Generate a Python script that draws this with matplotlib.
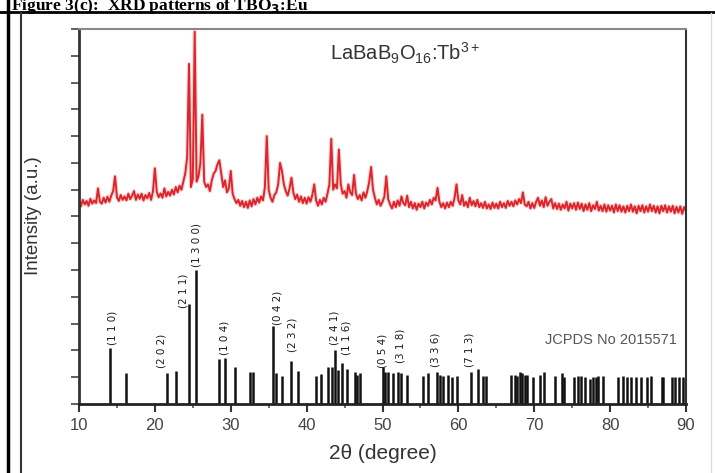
import numpy as np
import matplotlib.pyplot as plt
from matplotlib.lines import Line2D

# measured pattern, 10-90 deg in 0.25 deg steps (4 values per degree)
intensity = [
    7.55, 7.38, 7.62, 7.45,  # 10
    7.58, 7.40, 7.66, 7.48,  # 11
    7.60, 7.50, 8.05, 7.55,  # 12
    7.48, 7.70, 7.52, 7.74,  # 13
    7.55, 7.78, 7.95, 8.50,  # 14
    7.72, 7.58, 7.80, 7.62,  # 15
    7.75, 7.60, 7.85, 7.65,  # 16
    7.78, 7.95, 7.62, 7.82,  # 17
    7.66, 7.85, 7.60, 7.80,  # 18
    7.68, 7.88, 7.62, 7.95,  # 19
    8.80, 7.92, 7.72, 7.86,  # 20
    7.70, 8.05, 7.75, 7.92,  # 21
    7.78, 8.00, 7.82, 8.10,  # 22
    7.90, 8.15, 8.00, 8.30,  # 23
    8.60, 9.20, 12.70, 8.10,  # 24
    8.40, 13.90, 8.30, 8.50,  # 25
    9.00, 10.80, 8.30, 8.10,  # 26
    8.20, 7.95, 8.35, 8.60,  # 27
    8.70, 8.95, 9.10, 8.60,  # 28
    8.10, 8.35, 7.90, 8.05,  # 29
    8.70, 7.85, 7.65, 7.50,  # 30
    7.62, 7.40, 7.58, 7.35,  # 31
    7.55, 7.32, 7.60, 7.38,  # 32
    7.65, 7.45, 7.70, 7.52,  # 33
    7.75, 7.60, 8.10, 10.00,  # 34
    8.00, 7.70, 7.55, 7.80,  # 35
    7.90, 8.20, 9.00, 8.70,  # 36
    8.20, 7.95, 7.78, 8.05,  # 37
    8.45, 7.90, 7.65, 7.82,  # 38
    7.55, 7.75, 7.50, 7.70,  # 39
    7.48, 7.72, 7.55, 7.80,  # 40
    8.20, 7.60, 7.40, 7.62,  # 41
    7.45, 7.70, 7.55, 7.85,  # 42
    8.20, 9.90, 8.00, 8.20,  # 43
    8.05, 9.50, 8.20, 7.85,  # 44
    7.95, 7.70, 8.20, 7.90,  # 45
    7.80, 8.55, 7.85, 7.65,  # 46
    7.80, 7.60, 7.90, 7.70,  # 47
    7.95, 8.30, 8.85, 8.00,  # 48
    7.70, 7.45, 7.62, 7.40,  # 49
    7.55, 7.75, 8.50, 7.65,  # 50
    7.45, 7.30, 7.55, 7.35,  # 51
    7.60, 7.40, 7.75, 7.50,  # 52
    7.42, 7.78, 7.35, 7.55,  # 53
    7.30, 7.50, 7.25, 7.48,  # 54
    7.35, 7.55, 7.30, 7.52,  # 55
    7.40, 7.62, 7.45, 7.70,  # 56
    7.60, 8.07, 7.55, 7.35,  # 57
    7.50, 7.30, 7.52, 7.35,  # 58
    7.55, 7.40, 7.70, 8.20,  # 59
    7.60, 7.45, 7.80, 7.40,  # 60
    7.55, 7.35, 7.70, 7.42,  # 61
    7.58, 7.38, 7.62, 7.35,  # 62
    7.50, 7.32, 7.55, 7.30,  # 63
    7.45, 7.28, 7.52, 7.32,  # 64
    7.48, 7.30, 7.55, 7.35,  # 65
    7.50, 7.32, 7.58, 7.40,  # 66
    7.55, 7.38, 7.60, 7.45,  # 67
    7.65, 7.50, 7.90, 7.45,  # 68
    7.38, 7.55, 7.30, 7.50,  # 69
    7.32, 7.55, 7.70, 7.40,  # 70
    7.60, 7.35, 7.72, 7.40,  # 71
    7.55, 7.65, 7.30, 7.50,  # 72
    7.28, 7.48, 7.25, 7.45,  # 73
    7.30, 7.55, 7.22, 7.48,  # 74
    7.30, 7.50, 7.25, 7.52,  # 75
    7.28, 7.48, 7.20, 7.45,  # 76
    7.25, 7.50, 7.20, 7.42,  # 77
    7.28, 7.55, 7.22, 7.40,  # 78
    7.20, 7.45, 7.18, 7.42,  # 79
    7.22, 7.40, 7.15, 7.45,  # 80
    7.20, 7.42, 7.18, 7.38,  # 81
    7.15, 7.40, 7.20, 7.45,  # 82
    7.18, 7.38, 7.12, 7.40,  # 83
    7.20, 7.42, 7.15, 7.38,  # 84
    7.18, 7.45, 7.20, 7.40,  # 85
    7.15, 7.38, 7.12, 7.40,  # 86
    7.20, 7.42, 7.15, 7.38,  # 87
    7.18, 7.40, 7.12, 7.36,  # 88
    7.15, 7.38, 7.10, 7.35,  # 89
    7.20,
]
two_theta = np.linspace(10, 90, len(intensity))

# JCPDS reference lines
stick_pos = [14.08, 16.15, 21.6, 22.8, 24.5, 25.4, 28.5, 29.3, 30.5, 32.6, 32.9,
             35.6, 36.0, 36.8, 37.9, 38.8, 41.3, 41.9, 42.8, 43.3, 43.8, 44.1,
             44.7, 45.3, 46.4, 46.7, 47.1, 50.0, 50.3, 50.75, 51.4, 52.1, 52.5,
             53.2, 55.4, 56.0, 57.2, 57.6, 58.0, 58.65, 59.1, 59.8, 61.6, 62.6,
             63.3, 63.6, 67.0, 67.4, 67.7, 68.1, 68.4, 68.8, 69.1, 69.9, 70.8,
             71.3, 72.7, 73.6, 73.9, 75.3, 75.8, 76.2, 76.7, 77.3, 77.8, 78.1,
             78.4, 79.0, 81.05, 81.7, 82.2, 82.8, 83.4, 84.1, 84.8, 85.4, 86.8,
             87.0, 88.1, 88.5, 89.1, 89.6]
stick_h = [2.1, 1.17, 1.17, 1.23, 3.74, 5.0, 1.68, 1.72, 1.4, 1.2, 1.2,
           2.9, 1.15, 1.06, 1.6, 1.25, 1.06, 1.12, 1.4, 1.4, 2.0, 1.27,
           1.52, 1.3, 1.2, 1.1, 1.15, 1.4, 1.2, 1.2, 1.15, 1.2, 1.15,
           1.1, 1.05, 1.15, 1.2, 1.1, 1.05, 1.1, 1.0, 1.05, 1.2, 1.3,
           1.05, 1.05, 1.1, 1.1, 1.05, 1.2, 1.15, 1.1, 1.1, 1.0, 1.1,
           1.2, 1.05, 1.15, 1.0, 1.0, 1.05, 1.05, 1.0, 0.95, 1.0, 1.0,
           1.05, 1.05, 1.0, 1.05, 1.0, 1.0, 1.0, 1.0, 1.0, 1.05, 1.0,
           1.0, 1.0, 1.0, 1.0, 1.0]

hkl_labels = ['(1 1 0)', '(2 0 2)', '(2 1 1)', '(1 3 0 0)', '(1 0 4)', '(0 4 2)',
              '(2 3 2)', '(2 4 1)', '(1 1 6)', '(0 5 4)', '(3 1 8)', '(3 3 6)', '(7 1 3)']
hkl_x = [14.35, 20.9, 23.8, 25.55, 29.2, 36.1, 38.2, 43.7, 45.3, 50.05, 52.4, 57.0, 61.5]
hkl_y = [2.2, 1.35, 3.6, 5.1, 1.83, 2.95, 1.95, 2.2, 1.83, 1.35, 1.53, 1.38, 1.38]

fig = plt.figure(figsize=(7.15, 4.73), dpi=100)

# page frame around the scanned figure
fig.add_artist(Line2D([0, 1], [1 - 12/473] * 2, color='black', lw=2))
fig.add_artist(Line2D([8/715] * 2, [0, 1], color='black', lw=2.5))
fig.add_artist(Line2D([21/715] * 2, [0, 1 - 13/473], color='#333333', lw=1.5))
fig.add_artist(Line2D([711/715] * 2, [0, 1 - 13/473], color='#dddddd', lw=1))
fig.text(11/715, 1 - 10.5/473, 'Figure 3(c):  XRD patterns of TBO$_\\mathbf{3}$:Eu',
         family='Liberation Serif', weight='bold', fontsize=12.5, va='baseline')

ax = fig.add_axes([79/715, 69/473, 607/715, 375/473])
ax.plot(two_theta, intensity, color='#e8c0c0', lw=3.0, alpha=0.6)
ax.plot(two_theta, intensity, color='#e0242a', lw=1.4)
ax.vlines(stick_pos, 0, stick_h, color='#111111', lw=1.8)
for lab, x, y in zip(hkl_labels, hkl_x, hkl_y):
    ax.text(x, y, lab, rotation=90, ha='center', va='bottom', fontsize=7.5, color='#1a1a1a')

ax.text(43.1, 13.1, 'LaBaB$_\\mathregular{9}$O$_\\mathregular{16}$:Tb$^\\mathregular{3+}$',
        family='Liberation Sans', fontsize=14.5, color='#333333', va='center')
ax.text(71.4, 2.4, 'JCPDS No 2015571', family='Liberation Sans', fontsize=10.5,
        color='#555555', va='center')

ax.set_xlim(10, 90)
ax.set_ylim(0, 14)
ax.set_xticks(range(10, 91, 10))
ax.set_xticks(range(15, 90, 10), minor=True)
ax.set_yticks(range(0, 15))
ax.set_yticklabels([])
ax.tick_params(axis='x', direction='out', length=6, width=1.5, color='#333333',
               labelsize=12, labelcolor='#444444', pad=4)
ax.tick_params(axis='x', which='minor', direction='out', length=3, width=1.2, color='#555555')
ax.tick_params(axis='y', direction='out', length=6, width=1.2, color='#444444')
for t in ax.get_xticklabels():
    t.set_family('Liberation Sans')

ax.spines['left'].set_linewidth(2)
ax.spines['left'].set_color('#333333')
ax.spines['bottom'].set_linewidth(2)
ax.spines['bottom'].set_color('#222222')
ax.spines['right'].set_linewidth(1.5)
ax.spines['right'].set_color('#333333')
ax.spines['top'].set_linewidth(1.5)
ax.spines['top'].set_color('#888888')

ax.set_xlabel('2θ (degree)', family='Liberation Sans', fontsize=15, color='#333333', labelpad=8)
fig.text(34/715, 1 - 216/473, 'Intensity (a.u.)', family='Liberation Sans', fontsize=13.5,
         color='#333333', rotation=90, ha='center', va='center')

fig.savefig('out.png', dpi=100)
